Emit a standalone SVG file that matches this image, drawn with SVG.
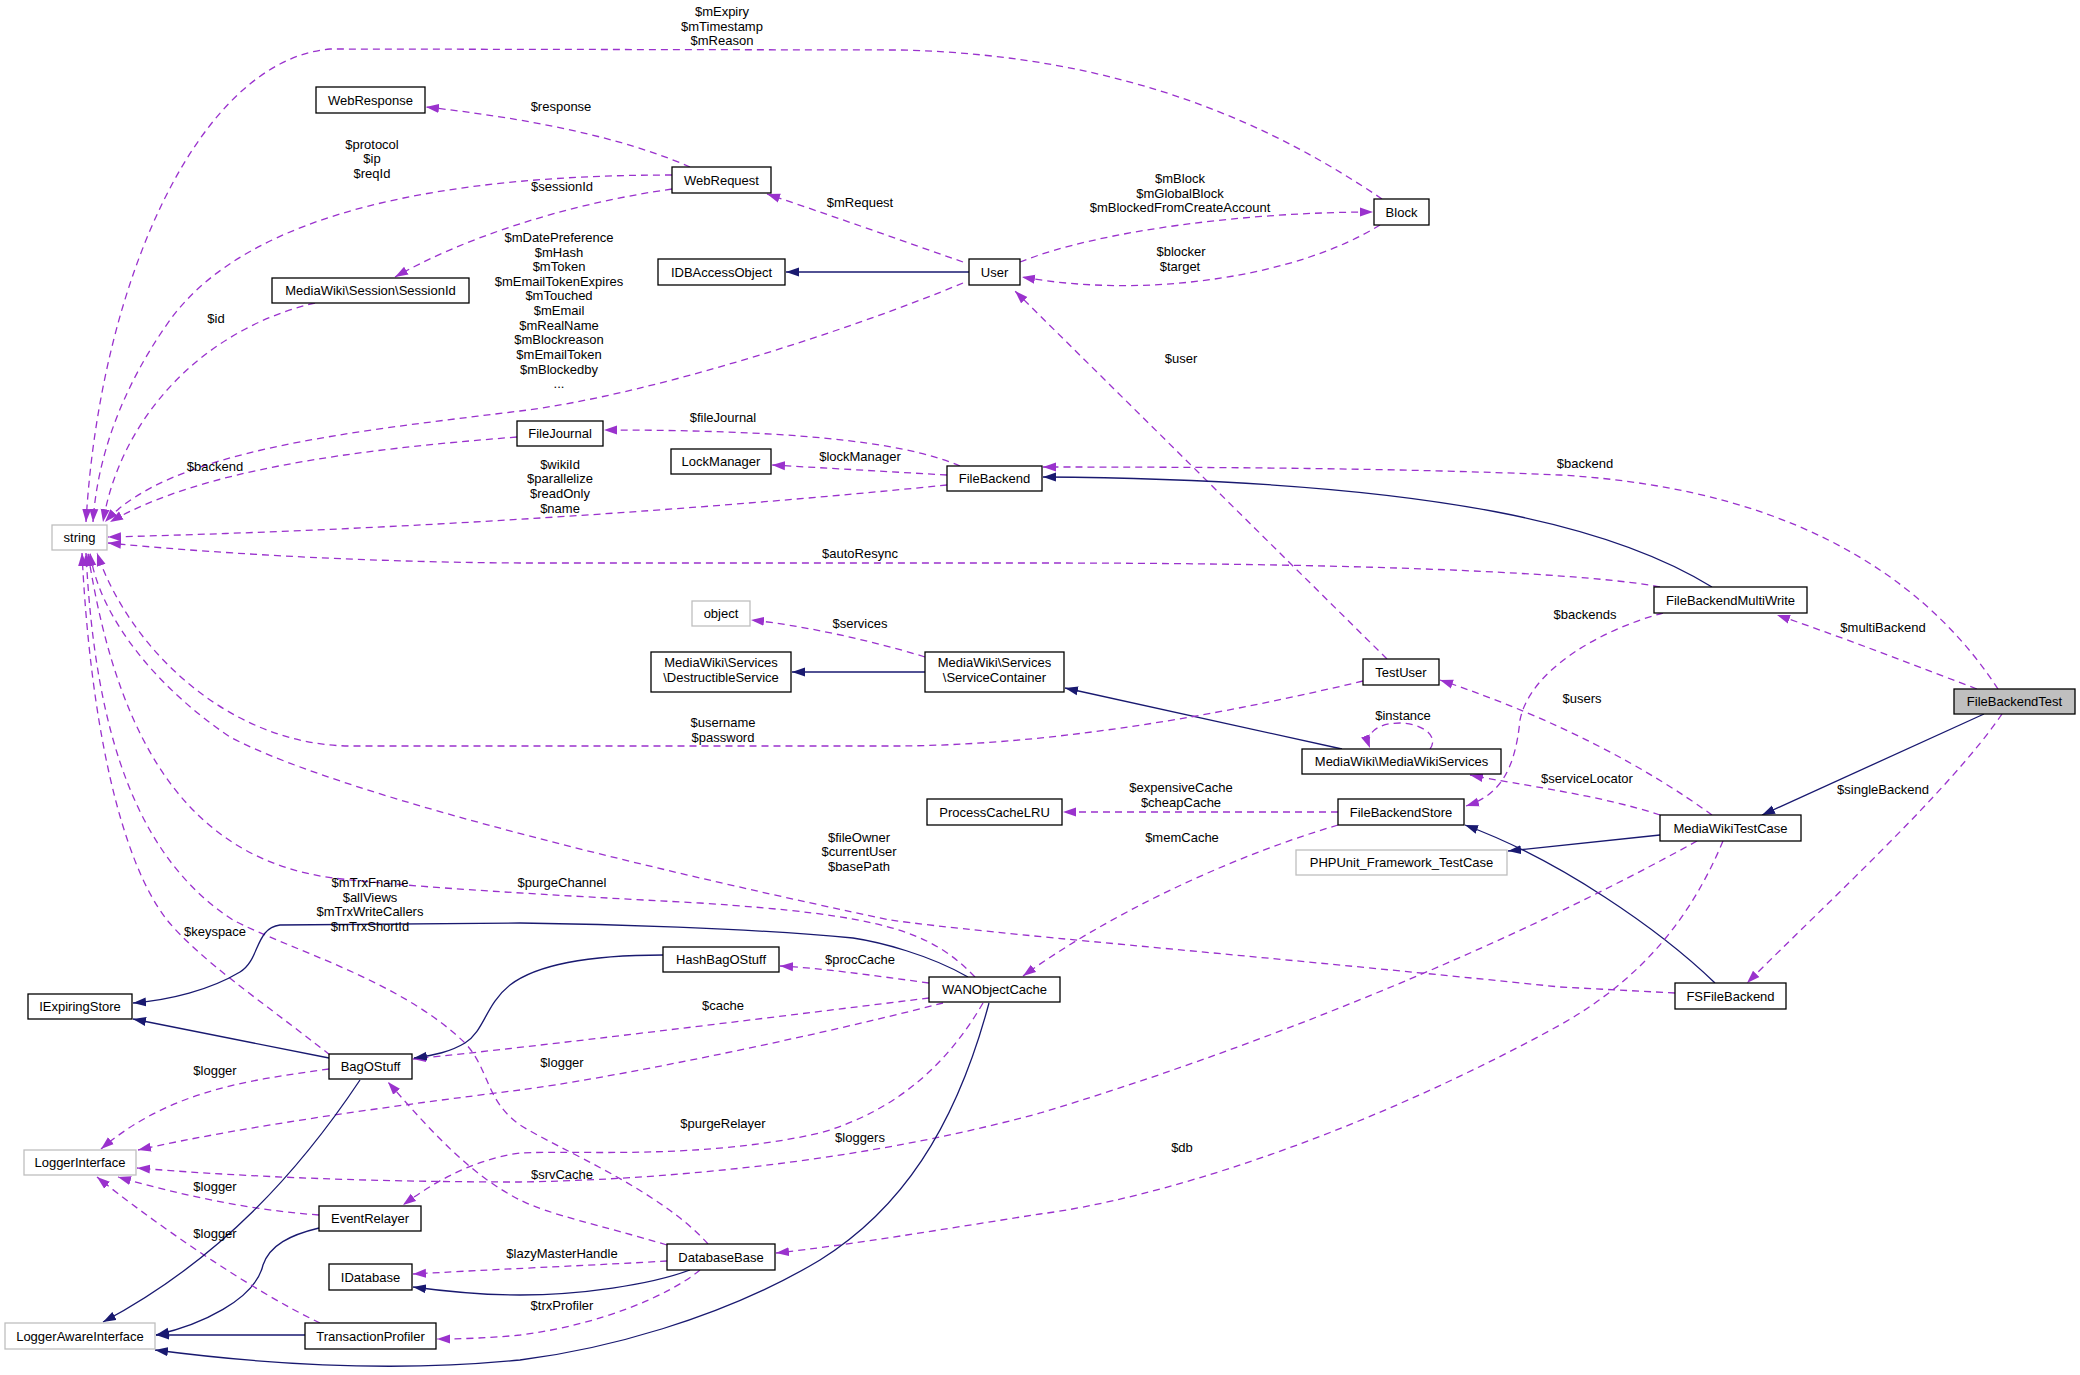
<svg xmlns="http://www.w3.org/2000/svg" width="2080" height="1375" viewBox="0 0 2080 1375">
<style>
text{font-family:"Liberation Sans",Arial,sans-serif;font-size:13px;fill:#000}
.n rect{fill:#fff;stroke:#000;stroke-width:1.3}
.n.g rect{stroke:#bfbfbf}
.n.h rect{fill:#bfbfbf}
.n text,.lbl{text-anchor:middle}
.d{fill:none;stroke:#9a32cd;stroke-width:1.3;stroke-dasharray:7,5;marker-end:url(#ap)}
.s{fill:none;stroke:#191970;stroke-width:1.3;marker-end:url(#ab)}
</style>
<defs>
<marker id="ap" markerUnits="userSpaceOnUse" markerWidth="14" markerHeight="10" refX="13" refY="5" orient="auto"><path d="M0,0.5 L13,5 L0,9.5 z" fill="#9a32cd"/></marker>
<marker id="ab" markerUnits="userSpaceOnUse" markerWidth="14" markerHeight="10" refX="13" refY="5" orient="auto"><path d="M0,0.5 L13,5 L0,9.5 z" fill="#191970"/></marker>
</defs>
<rect width="2080" height="1375" fill="#fff"/>
<g id="edges">
<path class="d" d="M1382,199 C1280,130 1130,55 900,50 L330,49 C200,60 100,280 86,522"/>
<path class="d" d="M690,167 C640,145 560,122 426,107"/>
<path class="d" d="M672,175 C450,175 250,210 170,320 C120,390 97,460 93,522"/>
<path class="d" d="M672,189 C560,205 460,240 395,277"/>
<path class="d" d="M315,303 C200,330 120,420 103,522"/>
<path class="d" d="M963,262 C900,240 830,215 767,194"/>
<path class="s" d="M969,272 L786,272"/>
<path class="d" d="M1020,262 C1100,230 1250,212 1373,212"/>
<path class="d" d="M1380,225 C1300,275 1150,300 1022,277"/>
<path class="d" d="M963,283 C850,330 650,395 520,411 C350,432 170,450 105,522"/>
<path class="d" d="M1387,659 L1015,291"/>
<path class="d" d="M960,466 C900,440 780,430 604,430"/>
<path class="d" d="M517,437 C350,450 200,470 110,522"/>
<path class="d" d="M947,475 L772,465"/>
<path class="d" d="M947,485 C700,510 400,530 108,537"/>
<path class="s" d="M1712,587 C1620,530 1450,480 1043,477"/>
<path class="d" d="M1660,587 C1600,575 1400,563 1040,563 L520,563 C350,562 200,552 108,543"/>
<path class="d" d="M1663,613 C1600,630 1530,670 1520,720 C1515,770 1500,795 1466,806"/>
<path class="d" d="M1998,689 C1940,600 1820,490 1560,475 C1400,468 1200,467 1043,467"/>
<path class="d" d="M1977,689 C1900,660 1850,640 1777,615"/>
<path class="s" d="M1984,714 L1762,815"/>
<path class="d" d="M2002,714 C1950,790 1830,900 1747,983"/>
<path class="d" d="M925,657 C870,640 800,625 751,620"/>
<path class="s" d="M925,672 L792,672"/>
<path class="s" d="M1342,749 L1065,688"/>
<path class="d" d="M1363,681 C1200,720 1040,745 900,746 L350,746 C230,745 130,650 97,553"/>
<path class="d" d="M1675,993 L1560,987 C1200,950 1000,935 890,920 C700,880 350,800 230,737 C160,690 100,620 90,553"/>
<path class="d" d="M975,977 C930,930 880,915 700,903 C550,895 420,888 333,878 C200,860 120,760 88,553"/>
<path class="d" d="M708,1244 C660,1190 560,1150 520,1125 C485,1100 490,1070 465,1043 C400,980 290,950 233,920 C140,860 95,740 86,553"/>
<path class="d" d="M330,1055 C260,1000 200,960 167,920 C120,860 90,720 82,553"/>
<path class="d" d="M1338,812 L1063,812"/>
<path class="d" d="M1338,825 C1220,860 1100,920 1023,976"/>
<path class="s" d="M1715,983 C1660,930 1560,860 1465,825"/>
<path class="s" d="M1660,835 L1508,851"/>
<path class="d" d="M1712,815 C1650,770 1560,720 1440,680"/>
<path class="d" d="M1660,815 C1600,795 1520,785 1470,775"/>
<path class="d" d="M1430,749 C1440,735 1420,723 1400,723 C1375,723 1365,735 1370,748"/>
<path class="d" d="M1697,841 C1500,950 1250,1050 1040,1113 C850,1165 650,1180 520,1182 C350,1182 220,1175 137,1168"/>
<path class="d" d="M1723,841 C1690,920 1640,980 1560,1025 C1350,1140 1150,1200 1040,1214 C950,1228 850,1245 776,1253"/>
<path class="d" d="M929,983 C870,975 820,968 780,966"/>
<path class="d" d="M929,998 C750,1020 550,1045 413,1059"/>
<path class="d" d="M943,1003 C800,1040 600,1080 520,1090 C400,1105 250,1125 138,1150"/>
<path class="d" d="M983,1003 C950,1060 900,1110 820,1133 C700,1160 580,1150 520,1153 C470,1160 430,1185 403,1205"/>
<path class="s" d="M968,977 C930,955 880,942 853,938 C750,928 600,924 520,923 L280,925 C255,928 260,960 240,972 C210,990 170,1000 133,1003"/>
<path class="s" d="M329,1058 L133,1019"/>
<path class="s" d="M663,955 C600,955 540,962 510,985 C485,1005 485,1030 465,1043 C450,1052 435,1055 414,1058"/>
<path class="d" d="M329,1069 C250,1080 170,1090 101,1149"/>
<path class="d" d="M319,1215 C250,1210 180,1195 118,1177"/>
<path class="s" d="M319,1228 C290,1235 270,1245 263,1265 C255,1300 200,1325 156,1335"/>
<path class="d" d="M320,1323 C250,1290 150,1220 97,1177"/>
<path class="s" d="M305,1335 L156,1335"/>
<path class="s" d="M360,1080 C300,1170 220,1260 103,1322"/>
<path class="s" d="M989,1003 C955,1130 900,1210 820,1260 C720,1320 600,1350 520,1360 C400,1372 270,1365 155,1350"/>
<path class="d" d="M667,1261 C600,1265 520,1268 413,1274"/>
<path class="s" d="M690,1270 C650,1285 580,1295 520,1295 C480,1295 450,1292 413,1287"/>
<path class="d" d="M700,1270 C670,1295 600,1325 520,1335 C490,1338 460,1339 437,1339"/>
<path class="d" d="M667,1245 C600,1225 550,1215 520,1200 C470,1175 430,1130 388,1082"/>
</g>
<g id="edge-labels">
<text class="lbl" x="722" y="16">$mExpiry</text>
<text class="lbl" x="722" y="31">$mTimestamp</text>
<text class="lbl" x="722" y="45">$mReason</text>
<text class="lbl" x="561" y="111">$response</text>
<text class="lbl" x="372" y="149">$protocol</text>
<text class="lbl" x="372" y="163">$ip</text>
<text class="lbl" x="372" y="178">$reqId</text>
<text class="lbl" x="562" y="191">$sessionId</text>
<text class="lbl" x="216" y="323">$id</text>
<text class="lbl" x="860" y="207">$mRequest</text>
<text class="lbl" x="1180" y="183">$mBlock</text>
<text class="lbl" x="1180" y="198">$mGlobalBlock</text>
<text class="lbl" x="1180" y="212">$mBlockedFromCreateAccount</text>
<text class="lbl" x="1181" y="256">$blocker</text>
<text class="lbl" x="1180" y="271">$target</text>
<text class="lbl" x="559" y="242">$mDatePreference</text>
<text class="lbl" x="559" y="257">$mHash</text>
<text class="lbl" x="559" y="271">$mToken</text>
<text class="lbl" x="559" y="286">$mEmailTokenExpires</text>
<text class="lbl" x="559" y="300">$mTouched</text>
<text class="lbl" x="559" y="315">$mEmail</text>
<text class="lbl" x="559" y="330">$mRealName</text>
<text class="lbl" x="559" y="344">$mBlockreason</text>
<text class="lbl" x="559" y="359">$mEmailToken</text>
<text class="lbl" x="559" y="374">$mBlockedby</text>
<text class="lbl" x="559" y="388">...</text>
<text class="lbl" x="1181" y="363">$user</text>
<text class="lbl" x="723" y="422">$fileJournal</text>
<text class="lbl" x="215" y="471">$backend</text>
<text class="lbl" x="860" y="461">$lockManager</text>
<text class="lbl" x="560" y="469">$wikiId</text>
<text class="lbl" x="560" y="483">$parallelize</text>
<text class="lbl" x="560" y="498">$readOnly</text>
<text class="lbl" x="560" y="513">$name</text>
<text class="lbl" x="1585" y="468">$backend</text>
<text class="lbl" x="860" y="558">$autoResync</text>
<text class="lbl" x="1585" y="619">$backends</text>
<text class="lbl" x="1883" y="632">$multiBackend</text>
<text class="lbl" x="1883" y="794">$singleBackend</text>
<text class="lbl" x="860" y="628">$services</text>
<text class="lbl" x="723" y="727">$username</text>
<text class="lbl" x="723" y="742">$password</text>
<text class="lbl" x="1403" y="720">$instance</text>
<text class="lbl" x="1582" y="703">$users</text>
<text class="lbl" x="1587" y="783">$serviceLocator</text>
<text class="lbl" x="1181" y="792">$expensiveCache</text>
<text class="lbl" x="1181" y="807">$cheapCache</text>
<text class="lbl" x="1182" y="842">$memCache</text>
<text class="lbl" x="859" y="842">$fileOwner</text>
<text class="lbl" x="859" y="856">$currentUser</text>
<text class="lbl" x="859" y="871">$basePath</text>
<text class="lbl" x="562" y="887">$purgeChannel</text>
<text class="lbl" x="370" y="887">$mTrxFname</text>
<text class="lbl" x="370" y="902">$allViews</text>
<text class="lbl" x="370" y="916">$mTrxWriteCallers</text>
<text class="lbl" x="370" y="931">$mTrxShortId</text>
<text class="lbl" x="215" y="936">$keyspace</text>
<text class="lbl" x="860" y="964">$procCache</text>
<text class="lbl" x="723" y="1010">$cache</text>
<text class="lbl" x="562" y="1067">$logger</text>
<text class="lbl" x="215" y="1075">$logger</text>
<text class="lbl" x="723" y="1128">$purgeRelayer</text>
<text class="lbl" x="860" y="1142">$loggers</text>
<text class="lbl" x="1182" y="1152">$db</text>
<text class="lbl" x="562" y="1179">$srvCache</text>
<text class="lbl" x="215" y="1191">$logger</text>
<text class="lbl" x="215" y="1238">$logger</text>
<text class="lbl" x="562" y="1258">$lazyMasterHandle</text>
<text class="lbl" x="562" y="1310">$trxProfiler</text>
</g>
<g id="FileBackendTest" class="n h"><rect x="1954" y="689" width="121" height="25"/><text x="2014.5" y="706">FileBackendTest</text></g>
<g id="FileBackend" class="n"><rect x="947" y="466" width="95" height="25"/><text x="994.5" y="483">FileBackend</text></g>
<g id="FileJournal" class="n"><rect x="517" y="421" width="86" height="25"/><text x="560" y="438">FileJournal</text></g>
<g id="string" class="n g"><rect x="52" y="525" width="55" height="25"/><text x="79.5" y="542">string</text></g>
<g id="LockManager" class="n"><rect x="671" y="449" width="100" height="25"/><text x="721" y="466">LockManager</text></g>
<g id="WebResponse" class="n"><rect x="316" y="87" width="109" height="26"/><text x="370.5" y="104.5">WebResponse</text></g>
<g id="WebRequest" class="n"><rect x="672" y="167" width="99" height="26"/><text x="721.5" y="184.5">WebRequest</text></g>
<g id="SessionId" class="n"><rect x="272" y="278" width="197" height="25"/><text x="370.5" y="295">MediaWiki\Session\SessionId</text></g>
<g id="IDBAccessObject" class="n"><rect x="658" y="259" width="127" height="26"/><text x="721.5" y="276.5">IDBAccessObject</text></g>
<g id="User" class="n"><rect x="969" y="259" width="51" height="26"/><text x="994.5" y="276.5">User</text></g>
<g id="Block" class="n"><rect x="1374" y="199" width="55" height="26"/><text x="1401.5" y="216.5">Block</text></g>
<g id="FileBackendMultiWrite" class="n"><rect x="1654" y="587" width="153" height="26"/><text x="1730.5" y="604.5">FileBackendMultiWrite</text></g>
<g id="object" class="n g"><rect x="692" y="601" width="58" height="25"/><text x="721" y="618">object</text></g>
<g id="DestructibleService" class="n"><rect x="651" y="652" width="140" height="40"/><text x="721" y="667">MediaWiki\Services</text><text x="721" y="682">\DestructibleService</text></g>
<g id="ServiceContainer" class="n"><rect x="925" y="652" width="139" height="40"/><text x="994.5" y="667">MediaWiki\Services</text><text x="994.5" y="682">\ServiceContainer</text></g>
<g id="TestUser" class="n"><rect x="1363" y="659" width="76" height="26"/><text x="1401" y="676.5">TestUser</text></g>
<g id="MediaWikiServices" class="n"><rect x="1302" y="749" width="199" height="25"/><text x="1401.5" y="766">MediaWiki\MediaWikiServices</text></g>
<g id="ProcessCacheLRU" class="n"><rect x="927" y="799" width="135" height="26"/><text x="994.5" y="816.5">ProcessCacheLRU</text></g>
<g id="FileBackendStore" class="n"><rect x="1338" y="799" width="126" height="26"/><text x="1401" y="816.5">FileBackendStore</text></g>
<g id="PHPUnit_Framework_TestCase" class="n g"><rect x="1296" y="850" width="211" height="25"/><text x="1401.5" y="867">PHPUnit_Framework_TestCase</text></g>
<g id="MediaWikiTestCase" class="n"><rect x="1660" y="815" width="141" height="26"/><text x="1730.5" y="832.5">MediaWikiTestCase</text></g>
<g id="FSFileBackend" class="n"><rect x="1675" y="983" width="111" height="26"/><text x="1730.5" y="1000.5">FSFileBackend</text></g>
<g id="HashBagOStuff" class="n"><rect x="663" y="947" width="116" height="25"/><text x="721" y="964">HashBagOStuff</text></g>
<g id="WANObjectCache" class="n"><rect x="929" y="977" width="131" height="25"/><text x="994.5" y="994">WANObjectCache</text></g>
<g id="IExpiringStore" class="n"><rect x="28" y="994" width="104" height="25"/><text x="80" y="1011">IExpiringStore</text></g>
<g id="BagOStuff" class="n"><rect x="329" y="1054" width="83" height="25"/><text x="370.5" y="1071">BagOStuff</text></g>
<g id="LoggerInterface" class="n g"><rect x="24" y="1150" width="112" height="25"/><text x="80" y="1167">LoggerInterface</text></g>
<g id="EventRelayer" class="n"><rect x="319" y="1206" width="102" height="25"/><text x="370" y="1223">EventRelayer</text></g>
<g id="IDatabase" class="n"><rect x="329" y="1264" width="83" height="26"/><text x="370.5" y="1281.5">IDatabase</text></g>
<g id="DatabaseBase" class="n"><rect x="667" y="1244" width="108" height="26"/><text x="721" y="1261.5">DatabaseBase</text></g>
<g id="LoggerAwareInterface" class="n g"><rect x="5" y="1323" width="150" height="26"/><text x="80" y="1340.5">LoggerAwareInterface</text></g>
<g id="TransactionProfiler" class="n"><rect x="305" y="1323" width="131" height="26"/><text x="370.5" y="1340.5">TransactionProfiler</text></g>
</svg>
